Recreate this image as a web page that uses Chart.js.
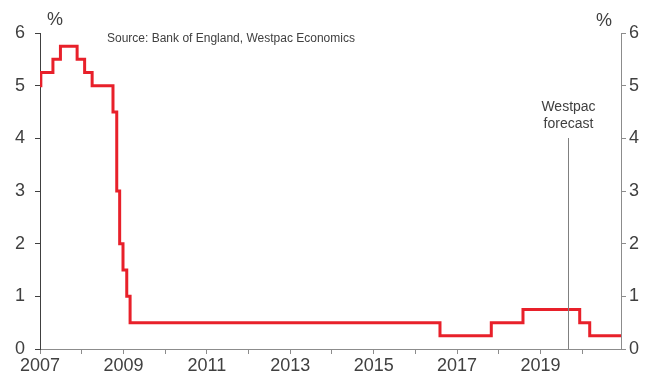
<!DOCTYPE html>
<html>
<head>
<meta charset="utf-8">
<script src="https://cdn.jsdelivr.net/npm/chart.js@4"></script>
<style>
  html, body { margin: 0; padding: 0; background: #fff; }
  #wrap { width: 646px; height: 376px; position: relative; }
</style>
</head>
<body>
<div id="wrap"><canvas id="bankRate"></canvas></div>
<script>
// Bank Rate step changes (decimal year of change, new rate %)
const changeDates = [2007.0, 2007.02, 2007.31, 2007.49, 2007.89, 2008.07, 2008.25,
  2008.75, 2008.84, 2008.91, 2008.99, 2009.08, 2009.16,
  2016.59, 2017.82, 2018.58, 2019.94, 2020.18, 2020.93];
const bankRate = [5.0, 5.25, 5.5, 5.75, 5.5, 5.25, 5.0,
  4.5, 3.0, 2.0, 1.5, 1.0, 0.5,
  0.25, 0.5, 0.75, 0.5, 0.25, 0.25];
const forecastStart = 2019.65;
const yearMin = 2007;
const yearMax = 2020.93;
const rateTicks = [0, 1, 2, 3, 4, 5, 6];

const textColor = '#404040';
const font = { family: '"Liberation Sans", Arial, sans-serif', size: 18 };

const points = changeDates.map((d, i) => ({ x: d, y: bankRate[i] }));

// extra text + forecast marker
const annotations = {
  id: 'annotations',
  afterDraw(chart) {
    const ctx = chart.ctx;
    const xs = chart.scales.x;
    const area = chart.chartArea;
    ctx.save();
    // forecast line
    const fx = Math.round(xs.getPixelForValue(forecastStart)) + 0.5;
    ctx.strokeStyle = '#808080';
    ctx.lineWidth = 1;
    ctx.beginPath();
    ctx.moveTo(fx, 138);
    ctx.lineTo(fx, area.bottom);
    ctx.stroke();

    ctx.fillStyle = textColor;
    ctx.textBaseline = 'middle';
    ctx.font = '18px "Liberation Sans", Arial, sans-serif';
    ctx.textAlign = 'center';
    ctx.fillText('%', 55, 20);
    ctx.fillText('%', 604, 21);

    ctx.font = '14px "Liberation Sans", Arial, sans-serif';
    ctx.fillText('Westpac', fx, 107);
    ctx.fillText('forecast', fx, 124);

    ctx.font = '12px "Liberation Sans", Arial, sans-serif';
    ctx.textAlign = 'left';
    ctx.fillText('Source: Bank of England, Westpac Economics', 107, 39);
    ctx.restore();
  }
};

new Chart(document.getElementById('bankRate'), {
  type: 'line',
  data: {
    datasets: [{
      data: points,
      borderColor: '#e8202a',
      borderWidth: 3,
      pointRadius: 0,
      stepped: 'before',
      fill: false
    }]
  },
  options: {
    responsive: true,
    maintainAspectRatio: false,
    animation: false,
    layout: { padding: { top: 33, left: 0, right: 0, bottom: 0 } },
    plugins: { legend: { display: false }, tooltip: { enabled: false } },
    scales: {
      x: {
        type: 'linear',
        min: yearMin,
        max: yearMax,
        afterFit: s => { s.height = 27; },
        border: { color: '#8c8c8c', width: 1 },
        grid: { drawOnChartArea: false, tickLength: 5, color: '#8c8c8c' },
        ticks: {
          stepSize: 1,
          includeBounds: false,
          autoSkip: false,
          maxRotation: 0,
          padding: 1,
          color: textColor,
          font: font,
          callback: v => (Number.isInteger(v) && (v - yearMin) % 2 === 0) ? String(v) : ''
        }
      },
      y: {
        position: 'left',
        min: 0,
        max: 6,
        afterFit: s => { s.width = 40; },
        afterBuildTicks: s => { s.ticks = rateTicks.map(v => ({ value: v })); },
        border: { color: '#404040', width: 1 },
        grid: { drawOnChartArea: false, tickLength: 5, color: '#404040' },
        ticks: { padding: 10, color: textColor, font: font }
      },
      y2: {
        position: 'right',
        min: 0,
        max: 6,
        afterFit: s => { s.width = 25; },
        afterBuildTicks: s => { s.ticks = rateTicks.map(v => ({ value: v })); },
        border: { color: '#8c8c8c', width: 1 },
        grid: { drawOnChartArea: false, tickLength: 5, color: '#8c8c8c' },
        ticks: { padding: 3, color: textColor, font: font }
      }
    }
  },
  plugins: [annotations]
});
</script>
</body>
</html>
